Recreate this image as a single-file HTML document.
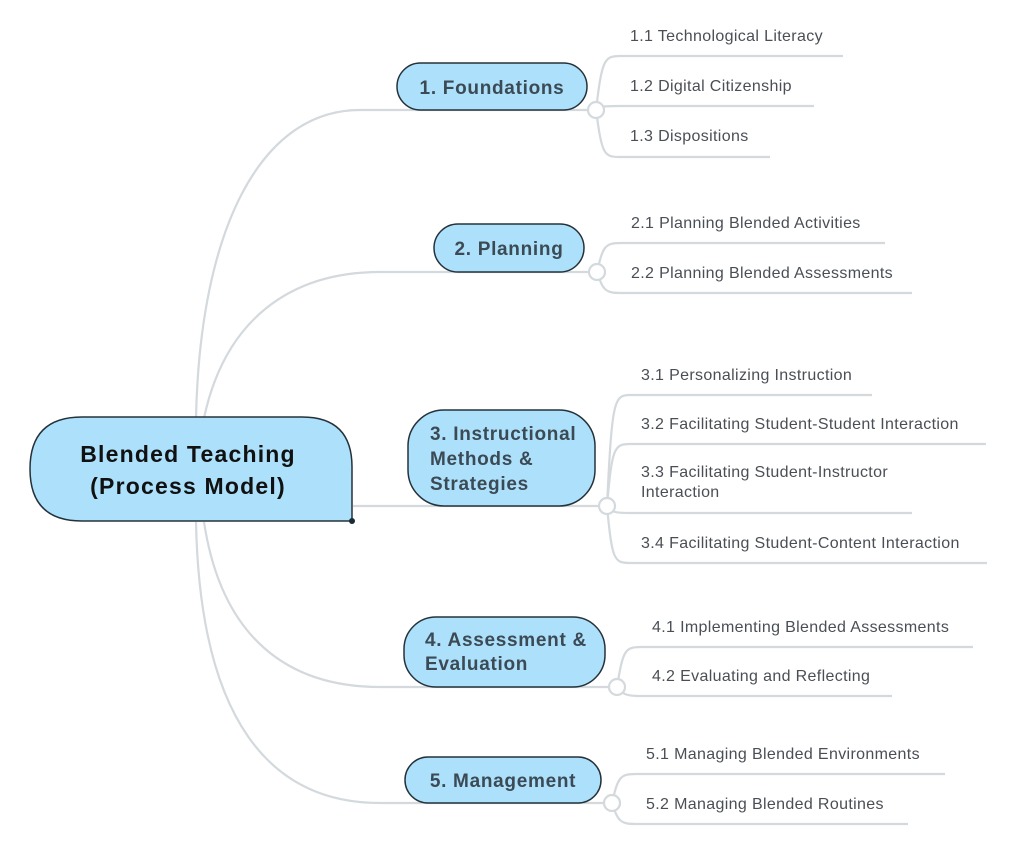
<!DOCTYPE html>
<html><head><meta charset="utf-8"><style>
html,body{margin:0;padding:0;background:#fff;}
svg{display:block;}
.b{font-family:"Liberation Sans",sans-serif;font-weight:bold;font-size:19px;fill:#3b4a55;letter-spacing:0.7px;}
.c{font-family:"Liberation Sans",sans-serif;font-size:16px;fill:#4a4f55;letter-spacing:0.35px;}
.l{fill:none;stroke:#d3d9dc;stroke-width:2.2;}
.n{fill:#ade1fb;stroke:#25323a;stroke-width:1.5;}
.o{fill:#fff;stroke:#d3d9dc;stroke-width:2.2;}
</style></head><body>
<svg width="1024" height="847" viewBox="0 0 1024 847" xmlns="http://www.w3.org/2000/svg">
<path class="l" d="M196,418 C200,230 260,110 360,110 L596,110"/>
<path class="l" d="M204,418 C225,320 290,272 380,272 L597,272"/>
<path class="l" d="M353,506 L607,506"/>
<path class="l" d="M204,522 C222,640 290,687 380,687 L617,687"/>
<path class="l" d="M196,522 C200,720 270,803 380,803 L612,803"/>
<path class="l" d="M596,110 C602,60 604,56 620,56 L843,56"/>
<path class="l" d="M596,110 C602,106 604,106 620,106 L814,106"/>
<path class="l" d="M596,110 C602,155 604,157 620,157 L770,157"/>
<path class="l" d="M597,272 C603,246 605,243 621,243 L885,243"/>
<path class="l" d="M597,272 C603,290 605,293 621,293 L912,293"/>
<path class="l" d="M607,506 C612,400 614,395 630,395 L872,395"/>
<path class="l" d="M607,506 C612,448 614,444 630,444 L986,444"/>
<path class="l" d="M607,506 C612,512 614,513 630,513 L912,513"/>
<path class="l" d="M607,506 C612,560 614,563 630,563 L987,563"/>
<path class="l" d="M617,687 C623,650 625,647 641,647 L973,647"/>
<path class="l" d="M617,687 C623,694 625,696 641,696 L892,696"/>
<path class="l" d="M612,803 C618,777 620,774 636,774 L945,774"/>
<path class="l" d="M612,803 C618,821 620,824 636,824 L908,824"/>
<path class="n" d="M82,417 L302,417 Q352,417 352,467 L352,521 L82,521 Q30,521 30,469 Q30,417 82,417 Z" stroke-width="2"/>
<circle cx="352" cy="521" r="3" fill="#1a2a36"/>
<text x="188" y="462" text-anchor="middle" font-family="Liberation Sans,sans-serif" font-weight="bold" font-size="23" fill="#111" letter-spacing="1.2">Blended Teaching</text>
<text x="188" y="494" text-anchor="middle" font-family="Liberation Sans,sans-serif" font-weight="bold" font-size="23" fill="#111" letter-spacing="1.2">(Process Model)</text>
<rect class="n" x="397" y="63" width="190" height="47" rx="23.5"/>
<text class="b" x="492" y="94" text-anchor="middle">1. Foundations</text>
<rect class="n" x="434" y="224" width="150" height="48" rx="24"/>
<text class="b" x="509" y="255" text-anchor="middle">2. Planning</text>
<rect class="n" x="408" y="410" width="187" height="96" rx="36"/>
<text class="b" x="430" y="440">3. Instructional</text>
<text class="b" x="430" y="465">Methods &amp;</text>
<text class="b" x="430" y="490">Strategies</text>
<rect class="n" x="404" y="617" width="201" height="70" rx="32"/>
<text class="b" x="425" y="646">4. Assessment &amp;</text>
<text class="b" x="425" y="670">Evaluation</text>
<rect class="n" x="405" y="757" width="196" height="46" rx="23"/>
<text class="b" x="503" y="787" text-anchor="middle">5. Management</text>
<circle class="o" cx="596" cy="110" r="8"/>
<circle class="o" cx="597" cy="272" r="8"/>
<circle class="o" cx="607" cy="506" r="8"/>
<circle class="o" cx="617" cy="687" r="8"/>
<circle class="o" cx="612" cy="803" r="8"/>
<text class="c" x="630" y="41">1.1 Technological Literacy</text>
<text class="c" x="630" y="91">1.2 Digital Citizenship</text>
<text class="c" x="630" y="141">1.3 Dispositions</text>
<text class="c" x="631" y="228">2.1 Planning Blended Activities</text>
<text class="c" x="631" y="278">2.2 Planning Blended Assessments</text>
<text class="c" x="641" y="380">3.1 Personalizing Instruction</text>
<text class="c" x="641" y="429">3.2 Facilitating Student-Student Interaction</text>
<text class="c" x="641" y="477">3.3 Facilitating Student-Instructor</text>
<text class="c" x="641" y="497">Interaction</text>
<text class="c" x="641" y="548">3.4 Facilitating Student-Content Interaction</text>
<text class="c" x="652" y="632">4.1 Implementing Blended Assessments</text>
<text class="c" x="652" y="681">4.2 Evaluating and Reflecting</text>
<text class="c" x="646" y="759">5.1 Managing Blended Environments</text>
<text class="c" x="646" y="809">5.2 Managing Blended Routines</text>
</svg>
</body></html>
